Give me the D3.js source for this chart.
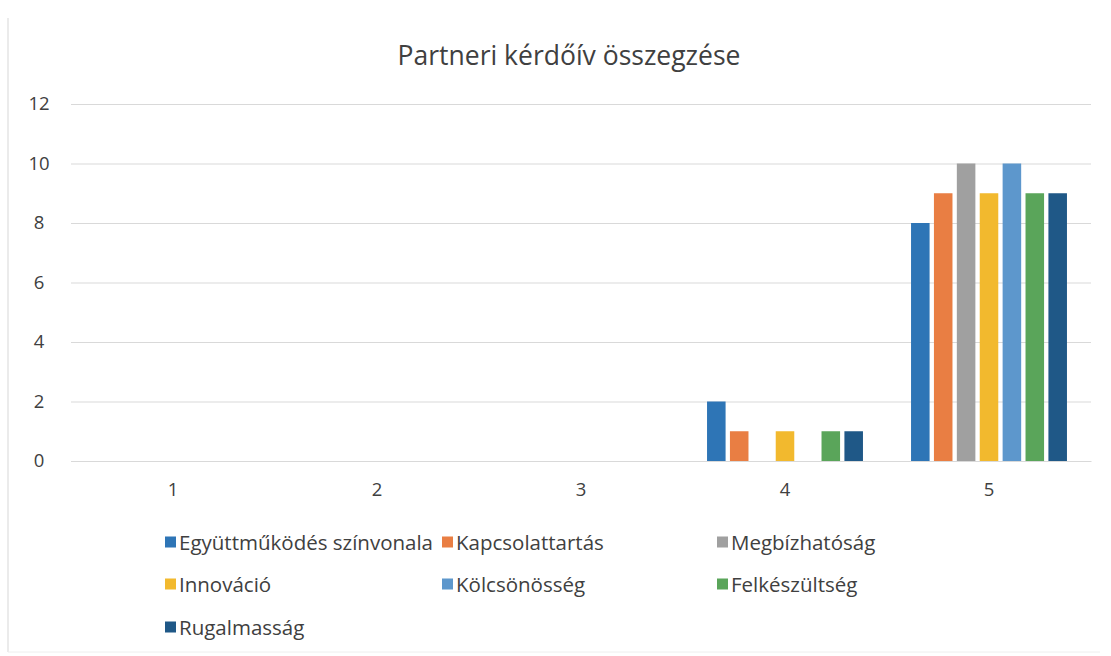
<!DOCTYPE html>
<html>
<head>
<meta charset="utf-8">
<script src="https://cdn.jsdelivr.net/npm/d3@7"></script>
<style>
  body { margin: 0; background: #fff; }
  text { font-family: "Open Sans", sans-serif; fill: #404040; }
</style>
</head>
<body>
<div id="chart"></div>
<script>
// data
const categories = ["1", "2", "3", "4", "5"];
const seriesNames = ["Együttműködés színvonala", "Kapcsolattartás", "Megbízhatóság",
  "Innováció", "Kölcsönösség", "Felkészültség", "Rugalmasság"];
const egyuttmukodes = [0, 0, 0, 2, 8];
const kapcsolattartas = [0, 0, 0, 1, 9];
const megbizhatosag = [0, 0, 0, 0, 10];
const innovacio = [0, 0, 0, 1, 9];
const kolcsonosseg = [0, 0, 0, 0, 10];
const felkeszultseg = [0, 0, 0, 1, 9];
const rugalmassag = [0, 0, 0, 1, 9];
const yTicks = [0, 2, 4, 6, 8, 10, 12];

const seriesValues = [egyuttmukodes, kapcsolattartas, megbizhatosag, innovacio,
  kolcsonosseg, felkeszultseg, rugalmassag];
const colors = ["#2E75B6", "#E97E43", "#A0A0A0", "#F2B92E", "#5D97CC", "#5AA55A", "#1F5887"];

const width = 1111, height = 656;
const margin = ({ top: 104, right: 20, bottom: 195, left: 71 });

const svg = d3.select("#chart")
  .append("svg")
  .attr("width", width)
  .attr("height", height);

// faint frame of the scanned chart
svg.append("line").attr("x1", 8).attr("x2", 8).attr("y1", 18).attr("y2", 652)
  .attr("stroke", "#e4e4e4").attr("stroke-width", 1.5);
svg.append("line").attr("x1", 8).attr("x2", 1100).attr("y1", 652).attr("y2", 652)
  .attr("stroke", "#eeeeee").attr("stroke-width", 1);

const x = d3.scaleBand(categories, [margin.left, width - margin.right]);
const x1 = d3.scaleBand(d3.range(seriesNames.length), [0, x.bandwidth()])
  .paddingInner(0.19)
  .paddingOuter(1.05);
const y = d3.scaleLinear([0, 12], [height - margin.bottom, margin.top]);

// title
svg.append("text")
  .attr("x", 569)
  .attr("y", 65)
  .attr("text-anchor", "middle")
  .style("font-size", "26.5px")
  .style("fill", "#404040")
  .text("Partneri kérdőív összegzése");

// gridlines + y labels
const yAxis = svg.append("g")
  .attr("transform", `translate(${margin.left},0)`)
  .call(d3.axisLeft(y).tickValues(yTicks).tickSize(-(width - margin.left - margin.right)).tickPadding(24));
yAxis.select(".domain").remove();
yAxis.selectAll(".tick line").attr("stroke", "#d9d9d9");
yAxis.selectAll(".tick text").style("font-size", "18.5px").style("fill", "#404040")
  .attr("text-anchor", "middle").attr("dx", -8);

// x labels
const xAxis = svg.append("g")
  .attr("transform", `translate(0,${height - margin.bottom})`)
  .call(d3.axisBottom(x).tickSize(0).tickPadding(22));
xAxis.select(".domain").attr("stroke", "#d9d9d9");
xAxis.selectAll(".tick text").style("font-size", "18.5px").style("fill", "#404040");

// bars
svg.append("g")
  .selectAll("g")
  .data(seriesValues)
  .join("g")
  .attr("fill", (d, i) => colors[i])
  .selectAll("rect")
  .data((d, i) => d.map((v, j) => ({ s: i, cat: categories[j], v: v })).filter(e => e.v > 0))
  .join("rect")
  .attr("x", d => x(d.cat) + x1(d.s))
  .attr("y", d => y(d.v))
  .attr("width", x1.bandwidth())
  .attr("height", d => y(0) - y(d.v));

// legend
const legendCols = [165, 442, 717];
const legendRows = [542, 584, 627];
const legend = svg.selectAll(".legend-group")
  .data(seriesNames)
  .join("g")
  .attr("class", "legend-group")
  .attr("transform", (d, i) => `translate(${legendCols[i % 3]},${legendRows[Math.floor(i / 3)]})`);

legend.append("rect")
  .attr("x", 0)
  .attr("y", -5.5)
  .attr("width", 11)
  .attr("height", 11)
  .attr("fill", (d, i) => colors[i]);

legend.append("text")
  .attr("x", 14)
  .attr("y", 7.5)
  .style("font-size", "20.5px")
  .text(d => d);
</script>
</body>
</html>
